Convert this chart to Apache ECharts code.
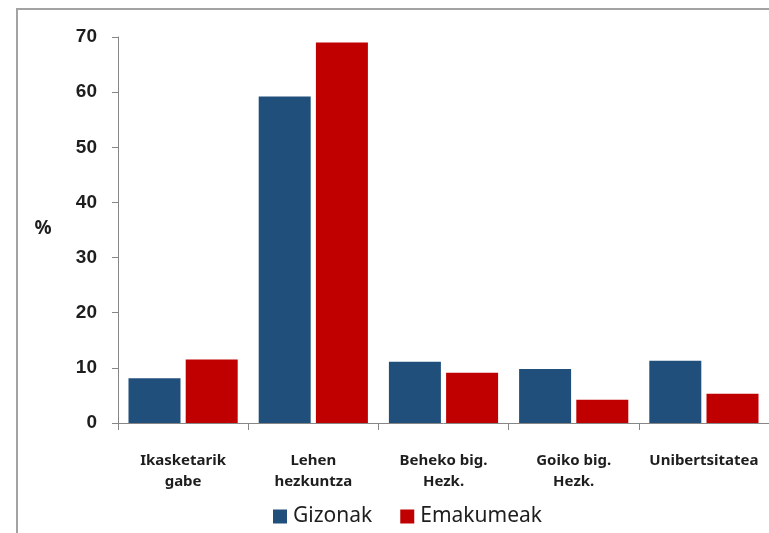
<!DOCTYPE html>
<html>
<head>
<meta charset="utf-8">
<script src="https://cdn.jsdelivr.net/npm/echarts@6/dist/echarts.min.js"></script>
<style>
  html, body { margin: 0; padding: 0; background: #fff; }
  #chart { width: 769px; height: 533px; }
</style>
</head>
<body>
<div id="chart"></div>
<script>
// Education level categories (x axis)
const categories = ['Ikasketarik\ngabe', 'Lehen\nhezkuntza', 'Beheko big.\nHezk.', 'Goiko big.\nHezk.', 'Unibertsitatea'];
// Percentages by sex
const gizonak = [8.1, 59.2, 11.1, 9.8, 11.3];
const emakumeak = [11.5, 69.0, 9.1, 4.2, 5.3];
// Value axis ticks
const yTicks = [0, 10, 20, 30, 40, 50, 60, 70];

const chart = echarts.init(document.getElementById('chart'));
const axisGray = '#868686';
const textDark = '#1e1e1e';

chart.setOption({
  animation: false,
  backgroundColor: '#fff',
  grid: { left: 118, right: 0, top: 37, bottom: 110, containLabel: false },
  graphic: [
    {
      type: 'rect',
      shape: { x: 17, y: 9, width: 900, height: 700 },
      style: { fill: 'none', stroke: '#a3a3a3', lineWidth: 2 },
      silent: true
    },
    {
      type: 'text',
      x: 43, y: 229,
      style: {
        text: '%', fill: textDark, align: 'center', verticalAlign: 'middle',
        font: 'bold 19px "Noto Sans", sans-serif'
      }
    }
  ],
  legend: {
    left: 268, top: 501,
    itemWidth: 14, itemHeight: 14, itemGap: 28,
    icon: 'rect',
    textStyle: { fontFamily: 'Noto Sans', fontSize: 21, color: textDark, padding: [0, 0, 0, 1] },
    data: ['Gizonak', 'Emakumeak']
  },
  xAxis: {
    type: 'category',
    data: categories,
    boundaryGap: true,
    axisLine: { show: true, lineStyle: { color: axisGray, width: 1 } },
    axisTick: { show: true, length: 7, lineStyle: { color: axisGray } },
    axisLabel: {
      interval: 0, margin: 27, color: textDark,
      fontFamily: 'Noto Sans', fontWeight: 'bold', fontSize: 15, lineHeight: 21
    },
    splitLine: { show: false }
  },
  yAxis: {
    type: 'value',
    min: yTicks[0], max: yTicks[yTicks.length - 1], interval: 10,
    axisLine: { show: true, lineStyle: { color: axisGray, width: 1 } },
    axisTick: { show: true, length: 6, lineStyle: { color: axisGray } },
    axisLabel: {
      margin: 21, color: textDark,
      fontFamily: 'Liberation Sans', fontWeight: 'bold', fontSize: 19
    },
    splitLine: { show: false }
  },
  series: [
    {
      name: 'Gizonak', type: 'bar', data: gizonak,
      barWidth: 52, barGap: '10%',
      itemStyle: { color: '#204f7c' }
    },
    {
      name: 'Emakumeak', type: 'bar', data: emakumeak,
      barWidth: 52, barGap: '10%',
      itemStyle: { color: '#c00000' }
    }
  ]
});
</script>
</body>
</html>
